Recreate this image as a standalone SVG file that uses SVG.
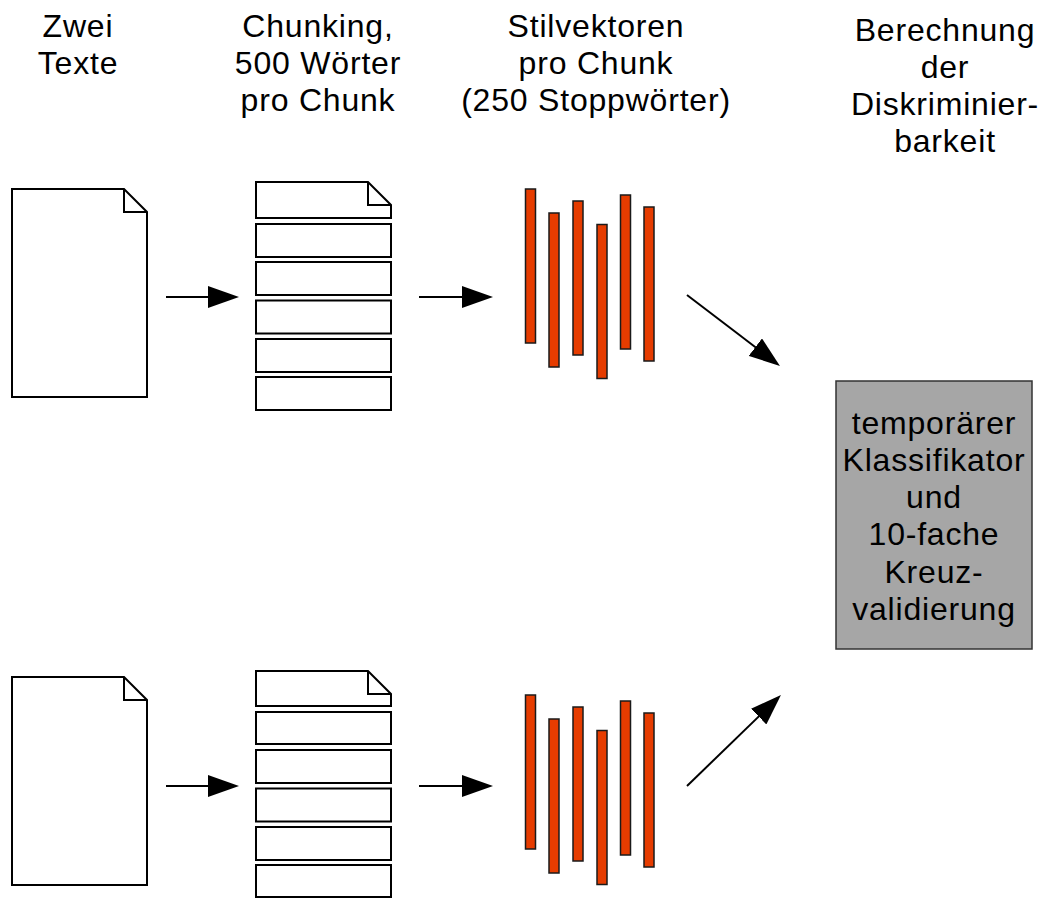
<svg xmlns="http://www.w3.org/2000/svg" width="1045" height="898" viewBox="0 0 1045 898">
  <style>
    .lbl { font-family: "Liberation Sans", Arial, sans-serif; font-size: 32px; letter-spacing: 0.8px; fill: #000; text-anchor: middle; }
    .doc { fill: #fff; stroke: #000; stroke-width: 2; stroke-linejoin: miter; }
    .fold { fill: none; stroke: #000; stroke-width: 2; }
    .bar { fill: #e63c00; stroke: #1a1a1a; stroke-width: 1.5; }
    .conn { fill: none; stroke: #000; stroke-width: 2; marker-end: url(#head); }
    .box { fill: #a6a6a6; stroke: #333; stroke-width: 1.5; }
  </style>
  <defs>
    <marker id="head" viewBox="0 0 31 22" refX="6" refY="11" markerWidth="31" markerHeight="22" markerUnits="userSpaceOnUse" orient="auto">
      <path d="M0,0 L31,11 L0,22 Z" fill="#000"/>
    </marker>
  </defs>
  <rect width="1045" height="898" fill="#fff"/>

  <!-- column headings -->
  <g id="heading-texts">
    <text class="lbl" x="78" y="37">Zwei</text>
    <text class="lbl" x="78" y="74">Texte</text>
  </g>
  <g id="heading-chunking">
    <text class="lbl" x="318" y="37">Chunking,</text>
    <text class="lbl" x="318" y="74">500 Wörter</text>
    <text class="lbl" x="318" y="111">pro Chunk</text>
  </g>
  <g id="heading-vectors">
    <text class="lbl" x="596" y="37">Stilvektoren</text>
    <text class="lbl" x="596" y="74">pro Chunk</text>
    <text class="lbl" x="596" y="111">(250 Stoppwörter)</text>
  </g>
  <g id="heading-discrimination">
    <text class="lbl" x="945" y="41">Berechnung</text>
    <text class="lbl" x="945" y="78">der</text>
    <text class="lbl" x="945" y="115">Diskriminier-</text>
    <text class="lbl" x="945" y="152">barkeit</text>
  </g>

  <!-- input documents -->
  <g id="text-a">
    <path class="doc" d="M12,189 H124 L147,212 V397 H12 Z"/>
    <path class="fold" d="M124,189 V212 H147"/>
  </g>
  <g id="text-b">
    <path class="doc" d="M12,677 H124 L147,700 V885 H12 Z"/>
    <path class="fold" d="M124,677 V700 H147"/>
  </g>

  <!-- chunk stacks -->
  <g id="chunks-a">
    <path class="doc" d="M256,182 H368 L391,205 V218 H256 Z"/>
    <path class="fold" d="M368,182 V205 H391"/>
    <rect class="doc" x="256" y="224" width="135" height="33"/>
    <rect class="doc" x="256" y="262" width="135" height="33"/>
    <rect class="doc" x="256" y="300.5" width="135" height="33"/>
    <rect class="doc" x="256" y="339" width="135" height="33"/>
    <rect class="doc" x="256" y="377" width="135" height="33"/>
  </g>
  <g id="chunks-b">
    <path class="doc" d="M256,671 H368 L391,694 V706 H256 Z"/>
    <path class="fold" d="M368,671 V694 H391"/>
    <rect class="doc" x="256" y="712" width="135" height="32"/>
    <rect class="doc" x="256" y="750" width="135" height="33"/>
    <rect class="doc" x="256" y="788.5" width="135" height="33"/>
    <rect class="doc" x="256" y="827" width="135" height="33"/>
    <rect class="doc" x="256" y="865" width="135" height="32"/>
  </g>

  <!-- style vectors -->
  <g id="vectors-a">
    <rect class="bar" x="525.5" y="189" width="10" height="154"/>
    <rect class="bar" x="549" y="213" width="10" height="154"/>
    <rect class="bar" x="573" y="201" width="10" height="154"/>
    <rect class="bar" x="597" y="224.5" width="10" height="154"/>
    <rect class="bar" x="620.5" y="195" width="10" height="154"/>
    <rect class="bar" x="644" y="207" width="10" height="154"/>
  </g>
  <g id="vectors-b">
    <rect class="bar" x="525.5" y="695" width="10" height="154"/>
    <rect class="bar" x="549" y="719" width="10" height="154"/>
    <rect class="bar" x="573" y="707" width="10" height="154"/>
    <rect class="bar" x="597" y="730.5" width="10" height="154"/>
    <rect class="bar" x="620.5" y="701" width="10" height="154"/>
    <rect class="bar" x="644" y="713" width="10" height="154"/>
  </g>

  <!-- classifier -->
  <g id="classifier">
    <rect class="box" x="836" y="381" width="196" height="268"/>
    <text class="lbl" x="934" y="434">temporärer</text>
    <text class="lbl" x="934" y="471">Klassifikator</text>
    <text class="lbl" x="934" y="508">und</text>
    <text class="lbl" x="934" y="545">10-fache</text>
    <text class="lbl" x="934" y="583">Kreuz-</text>
    <text class="lbl" x="934" y="620">validierung</text>
  </g>

  <!-- connectors -->
  <g id="connectors">
    <line class="conn" x1="166" y1="297" x2="214" y2="297"/>
    <line class="conn" x1="419" y1="297" x2="468" y2="297"/>
    <line class="conn" x1="166" y1="786" x2="214" y2="786"/>
    <line class="conn" x1="419" y1="786" x2="468" y2="786"/>
    <line class="conn" x1="687" y1="295" x2="760.1" y2="350.8"/>
    <line class="conn" x1="687" y1="786" x2="763" y2="712.4"/>
  </g>
</svg>
